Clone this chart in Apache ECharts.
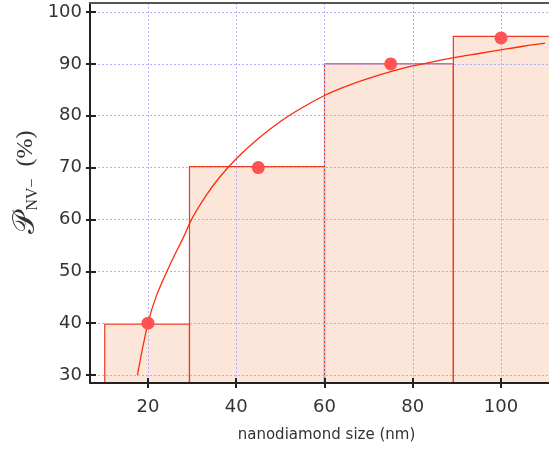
<!DOCTYPE html>
<html>
<head>
<meta charset="utf-8">
<script src="https://cdn.jsdelivr.net/npm/echarts@6/dist/echarts.min.js"></script>
<style>
  html, body { margin: 0; padding: 0; background: #fff; overflow: hidden; }
  #chart { width: 563px; height: 452px; }
</style>
</head>
<body>
<div id="chart"></div>
<script>
// 直方图的分箱边界与高度
const binStart = [10.2, 29.4, 60, 89.2];
const binEnd = [29.4, 60, 89.2, 125];
const binHeight = [39.8, 70.2, 90, 95.3];

// 测量点
const pointX = [20, 45, 75, 100];
const pointY = [40, 70, 90, 95];

// 拟合曲线
const curveX = [17.6, 20, 22, 25, 28, 30, 33, 36, 40, 45, 50, 55, 60, 65, 70, 75, 80, 85, 90, 95, 100, 105, 110];
const curveY = [30, 40, 45.5, 51.3, 56.5, 60.2, 64.4, 67.9, 71.7, 75.6, 78.9, 81.6, 83.9, 85.7, 87.2, 88.5, 89.6, 90.5, 91.3, 92, 92.7, 93.4, 94];

// 刻度
const xTicks = [20, 40, 60, 80, 100];
const yTicks = [30, 40, 50, 60, 70, 80, 90, 100];

const xMin = 6.856, xMax = 114.05;
const yMin = 28.46, yMax = 101.74;

const font = '"DejaVu Sans", sans-serif';
const gridColor = '#aeb0fb';

const chart = echarts.init(document.getElementById('chart'));

const baseX = {
  type: 'value', min: xMin, max: xMax, gridIndex: 0
};
const baseY = {
  type: 'value', min: yMin, max: yMax, gridIndex: 0
};

const option = {
  animation: false,
  grid: { left: 90, top: 3, right: 0, bottom: 69 },
  xAxis: [
    {
      ...baseX, position: 'bottom', z: 3,
      axisLine: { show: true, lineStyle: { color: '#222', width: 2 } },
      axisTick: { show: true, inside: false, length: 5, customValues: xTicks, lineStyle: { color: '#222', width: 2 } },
      axisLabel: { customValues: xTicks, color: '#333', fontSize: 18, fontFamily: font, margin: 15 },
      splitLine: { show: true, lineStyle: { color: gridColor, type: [2, 2], width: 1 } },
      name: 'nanodiamond size (nm)', nameLocation: 'middle', nameGap: 45,
      nameTextStyle: { color: '#333', fontSize: 15, fontFamily: font }
    },
    {
      ...baseX, position: 'bottom', z: 3,
      axisLine: { show: false },
      axisTick: { show: true, inside: true, length: 5, customValues: xTicks, lineStyle: { color: '#222', width: 2 } },
      axisLabel: { show: false },
      splitLine: { show: false }
    },
    {
      ...baseX, position: 'top', z: 3,
      axisLine: { show: true, lineStyle: { color: '#555', width: 2 } },
      axisTick: { show: false },
      axisLabel: { show: false },
      splitLine: { show: false }
    }
  ],
  yAxis: [
    {
      ...baseY, position: 'left', z: 3,
      axisLine: { show: true, lineStyle: { color: '#222', width: 2 } },
      axisTick: { show: true, inside: false, length: 4, customValues: yTicks, lineStyle: { color: '#222', width: 2 } },
      axisLabel: { customValues: yTicks, color: '#333', fontSize: 18, fontFamily: font, margin: 8 },
      splitLine: { show: true, lineStyle: { color: gridColor, type: [2, 2], width: 1 } }
    },
    {
      ...baseY, position: 'left', z: 3,
      axisLine: { show: false },
      axisTick: { show: true, inside: true, length: 6, customValues: yTicks, lineStyle: { color: '#222', width: 2 } },
      axisLabel: { show: false },
      splitLine: { show: false }
    }
  ],
  graphic: [{
    type: 'text',
    x: 26, y: 182,
    rotation: Math.PI / 2,
    style: {
      text: '{p|𝒫}{s|NV−}{u|  (%)}',
      align: 'center',
      verticalAlign: 'middle',
      fill: '#333',
      rich: {
        p: { fontSize: 30, fontFamily: '"DejaVu Serif", serif', fill: '#333' },
        s: { fontSize: 16, fontFamily: '"Liberation Serif", serif', fill: '#333', padding: [14, 0, 0, 1] },
        u: { fontSize: 24, fontFamily: '"Liberation Serif", serif', fill: '#333' }
      }
    }
  }],
  series: [
    {
      type: 'custom',
      xAxisIndex: 0, yAxisIndex: 0,
      z: 2,
      data: binStart.map((s, i) => [s, binEnd[i], binHeight[i]]),
      encode: { x: [0, 1], y: 2 },
      renderItem: (params, api) => {
        const p0 = api.coord([api.value(0), api.value(2)]);
        const p1 = api.coord([api.value(1), yMin]);
        return {
          type: 'rect',
          shape: { x: p0[0], y: p0[1], width: p1[0] - p0[0], height: p1[1] - p0[1] },
          style: { fill: 'rgba(244,150,100,0.24)', stroke: '#ef3a22', lineWidth: 1.2 }
        };
      }
    },
    {
      type: 'line',
      xAxisIndex: 0, yAxisIndex: 0,
      z: 4,
      data: curveX.map((x, i) => [x, curveY[i]]),
      showSymbol: false,
      smooth: 0.3,
      lineStyle: { color: '#ff2a0a', width: 1.3 }
    },
    {
      type: 'scatter',
      xAxisIndex: 0, yAxisIndex: 0,
      z: 5,
      data: pointX.map((x, i) => [x, pointY[i]]),
      symbolSize: 13,
      itemStyle: { color: '#ff5252', opacity: 1 }
    }
  ]
};

chart.setOption(option);
</script>
</body>
</html>
